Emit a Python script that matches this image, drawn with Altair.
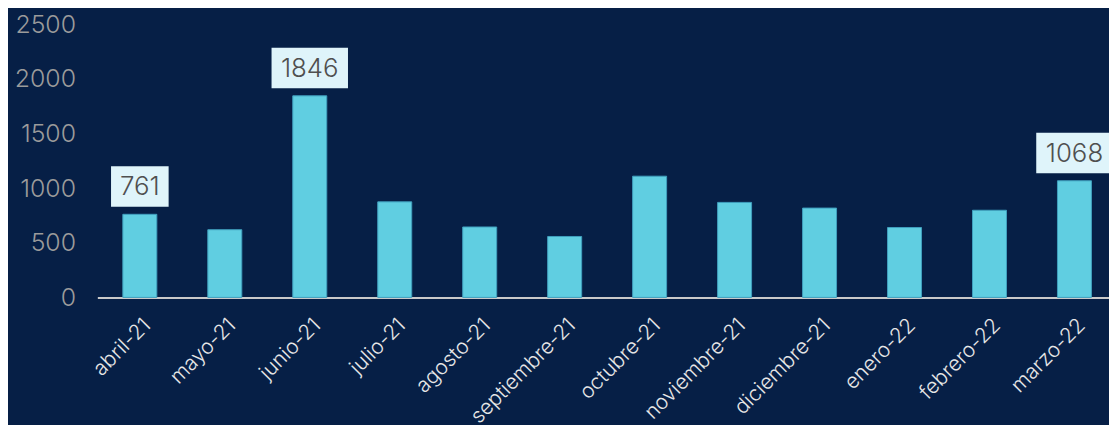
import altair as alt
import pandas as pd

months = ["abril-21", "mayo-21", "junio-21", "julio-21", "agosto-21", "septiembre-21",
          "octubre-21", "noviembre-21", "diciembre-21", "enero-22", "febrero-22", "marzo-22"]
values = [761, 620, 1846, 875, 645, 558, 1110, 870, 818, 640, 798, 1068]
labeled_months = ["abril-21", "junio-21", "marzo-22"]
y_ticks = [0, 500, 1000, 1500, 2000, 2500]

df = pd.DataFrame({"mes": months, "valor": values})

FONT = "Inter"
BG = "#061f46"

x_enc = alt.X("mes:N", sort=months, title=None,
              scale=alt.Scale(range=[0, 1027], paddingInner=0.6, paddingOuter=0.3),
              axis=alt.Axis(labelAngle=-45, labelColor="#e6e6e6", labelFont=FONT,
                            labelFontWeight=300, labelFontSize=21, labelPadding=17,
                            ticks=False, domainColor="#c9c9c9", domainWidth=2))
y_scale = alt.Scale(domain=[0, 2500], range=[275, 0], nice=False, padding=0, zero=True)
y_enc = alt.Y("valor:Q", title=None, scale=y_scale,
              axis=alt.Axis(values=y_ticks, format="d", grid=False, domain=False, ticks=False,
                            labelColor="#9b9b9b", labelFont=FONT, labelFontWeight=300,
                            labelFontSize=25, labelPadding=22))

bars = alt.Chart(df).mark_bar(color="#60cee1", stroke="#3f9fbd", strokeWidth=1).encode(
    x=x_enc, y=y_enc)

lab = alt.Chart(df).transform_filter(
    alt.FieldOneOfPredicate(field="mes", oneOf=labeled_months)
)

box3 = "M-1.415,-1H1.415V1H-1.415Z"
box4 = "M-1.878,-1H1.878V1H-1.878Z"

boxes = lab.mark_point(filled=True, opacity=1, yOffset=-28, size=1681, strokeWidth=0,
                       color="#dff4fa").encode(
    x=alt.X("mes:N", sort=months),
    y=alt.Y("valor:Q", scale=y_scale),
    shape=alt.condition("datum.valor >= 1000", alt.value(box4), alt.value(box3)),
)

texts = lab.mark_text(yOffset=-27, baseline="middle", align="center", font=FONT,
                      fontWeight=300, fontSize=26, color="#4f4f4f").encode(
    x=alt.X("mes:N", sort=months),
    y=alt.Y("valor:Q", scale=y_scale),
    text="valor:Q",
)

chart = alt.layer(bars, boxes, texts).properties(
    width=1019, height=275,
    background=BG,
    padding={"left": 90, "top": 15, "right": 0, "bottom": 127},
    autosize=alt.AutoSizeParams(type="none"),
).configure_view(stroke=None)

chart.save("out.html", embed_options={"renderer": "svg", "actions": False})
